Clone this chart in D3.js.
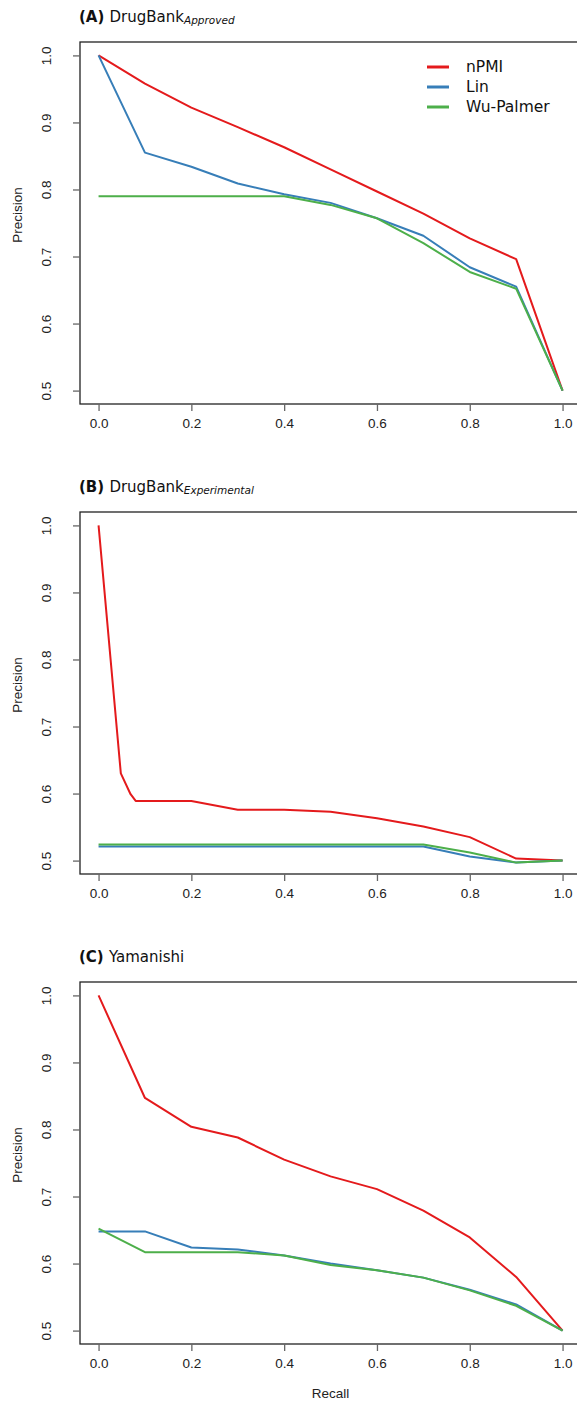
<!DOCTYPE html>
<html>
<head>
<meta charset="utf-8">
<script src="https://cdn.jsdelivr.net/npm/d3@7"></script>
<style>
  html, body { margin: 0; padding: 0; background: #fff; }
  svg { display: block; }
</style>
</head>
<body>
<svg id="chart" width="577" height="1404"></svg>
<script>
// Series names and colours
const seriesNames = ["nPMI", "Lin", "Wu-Palmer"];
const seriesColors = ["#E41A1C", "#377EB8", "#4DAF4A"];

// Panel titles
const panelTags = ["(A)", "(B)", "(C)"];
const panelNames = ["DrugBank", "DrugBank", "Yamanishi"];
const panelSubs = ["Approved", "Experimental", ""];

// Axis ticks
const xTicks = [0, 0.2, 0.4, 0.6, 0.8, 1.0];
const yTicks = [0.5, 0.6, 0.7, 0.8, 0.9, 1.0];

const recall = [0, 0.1, 0.2, 0.3, 0.4, 0.5, 0.6, 0.7, 0.8, 0.9, 1.0];

// (A) DrugBank Approved
const aNpmi = [1.0, 0.958, 0.922, 0.893, 0.863, 0.830, 0.797, 0.764, 0.727, 0.696, 0.5];
const aLin  = [1.0, 0.855, 0.834, 0.809, 0.793, 0.780, 0.757, 0.731, 0.684, 0.655, 0.5];
const aWu   = [0.79, 0.79, 0.79, 0.79, 0.79, 0.777, 0.757, 0.720, 0.677, 0.652, 0.5];

// (B) DrugBank Experimental
const bRecallNpmi = [0, 0.048, 0.069, 0.08, 0.2, 0.3, 0.4, 0.5, 0.6, 0.7, 0.8, 0.9, 1.0];
const bNpmi = [1.0, 0.630, 0.599, 0.589, 0.589, 0.576, 0.576, 0.573, 0.563, 0.551, 0.535, 0.503, 0.5];
const bLin  = [0.521, 0.521, 0.521, 0.521, 0.521, 0.521, 0.521, 0.521, 0.506, 0.497, 0.5];
const bWu   = [0.524, 0.524, 0.524, 0.524, 0.524, 0.524, 0.524, 0.524, 0.512, 0.497, 0.5];

// (C) Yamanishi
const cNpmi = [1.0, 0.847, 0.804, 0.788, 0.755, 0.730, 0.711, 0.679, 0.639, 0.580, 0.5];
const cLin  = [0.648, 0.648, 0.624, 0.621, 0.612, 0.600, 0.590, 0.579, 0.561, 0.539, 0.5];
const cWu   = [0.652, 0.617, 0.617, 0.617, 0.612, 0.598, 0.590, 0.579, 0.560, 0.537, 0.5];

const panels = [
  { x: [recall, recall, recall], y: [aNpmi, aLin, aWu] },
  { x: [bRecallNpmi, recall, recall], y: [bNpmi, bLin, bWu] },
  { x: [recall, recall, recall], y: [cNpmi, cLin, cWu] }
];

const svg = d3.select("#chart");
const tickFont = "'Liberation Sans', Arial, sans-serif";
const titleFont = "'DejaVu Sans', sans-serif";

const boxLeft = 80, boxH = 362, panelStep = 470, firstTop = 42;
const x = d3.scaleLinear().domain([-0.04, 1.04]).range([boxLeft, boxLeft + 1.08 * 464]);

panels.forEach((p, i) => {
  const top = firstTop + i * panelStep;
  const bottom = top + boxH;
  const y = d3.scaleLinear().domain([0.48, 1.02]).range([bottom, top]);
  const g = svg.append("g");

  // Title
  const t = g.append("text")
    .attr("x", 79).attr("y", top - 20)
    .attr("font-family", titleFont).attr("font-size", 15).attr("fill", "#111");
  t.append("tspan").attr("font-weight", "bold").text(panelTags[i] + " ");
  t.append("tspan").text(panelNames[i]);
  if (panelSubs[i]) {
    t.append("tspan").attr("font-style", "italic").attr("font-size", 10.5)
      .attr("dy", 2).text(panelSubs[i]);
  }

  // Data lines
  const line = d3.line().x(d => x(d[0])).y(d => y(d[1]));
  p.y.forEach((vals, s) => {
    g.append("path")
      .datum(p.x[s].map((r, k) => [r, vals[k]]))
      .attr("d", line)
      .attr("fill", "none")
      .attr("stroke", seriesColors[s])
      .attr("stroke-width", 2)
      .attr("stroke-linejoin", "round");
  });

  // Plot frame
  g.append("rect")
    .attr("x", boxLeft).attr("y", top)
    .attr("width", x.range()[1] - boxLeft).attr("height", boxH)
    .attr("fill", "none").attr("stroke", "#222").attr("stroke-width", 1.3);

  // Y axis
  const yAxis = g.append("g").attr("transform", `translate(${boxLeft},0)`)
    .call(d3.axisLeft(y).tickValues(yTicks).tickFormat(d3.format(".1f")).tickSize(7).tickSizeOuter(0));
  yAxis.select(".domain").remove();
  yAxis.selectAll(".tick line").attr("stroke", "#666").attr("stroke-width", 1.3);
  yAxis.selectAll(".tick text")
    .attr("font-family", tickFont).attr("font-size", 13.5).attr("fill", "#222")
    .attr("text-anchor", "middle").attr("dy", 0).attr("x", 0)
    .attr("transform", "translate(-34,0) rotate(-90)")
    .attr("dominant-baseline", "central");

  // X axis
  const xAxis = g.append("g").attr("transform", `translate(0,${bottom})`)
    .call(d3.axisBottom(x).tickValues(xTicks).tickFormat(d3.format(".1f")).tickSize(7).tickSizeOuter(0));
  xAxis.select(".domain").remove();
  xAxis.selectAll(".tick line").attr("stroke", "#666").attr("stroke-width", 1.3);
  xAxis.selectAll(".tick text")
    .attr("font-family", tickFont).attr("font-size", 13.5).attr("fill", "#222")
    .attr("y", 14);

  // Y label
  g.append("text")
    .attr("transform", `translate(22,${top + boxH / 2 - 8}) rotate(-90)`)
    .attr("text-anchor", "middle")
    .attr("font-family", tickFont).attr("font-size", 13.5).attr("fill", "#222")
    .text("Precision");
});

// X label
svg.append("text")
  .attr("x", x(0.5)).attr("y", 1398)
  .attr("text-anchor", "middle")
  .attr("font-family", tickFont).attr("font-size", 13.5).attr("fill", "#222")
  .text("Recall");

// Legend in panel A
const legend = svg.append("g");
seriesNames.forEach((name, s) => {
  const ly = 67 + s * 20;
  legend.append("line")
    .attr("x1", 427).attr("x2", 449).attr("y1", ly).attr("y2", ly)
    .attr("stroke", seriesColors[s]).attr("stroke-width", 3);
  legend.append("text")
    .attr("x", 466).attr("y", ly)
    .attr("dominant-baseline", "central")
    .attr("font-family", titleFont).attr("font-size", 15.5).attr("fill", "#111")
    .text(name);
});
</script>
</body>
</html>
